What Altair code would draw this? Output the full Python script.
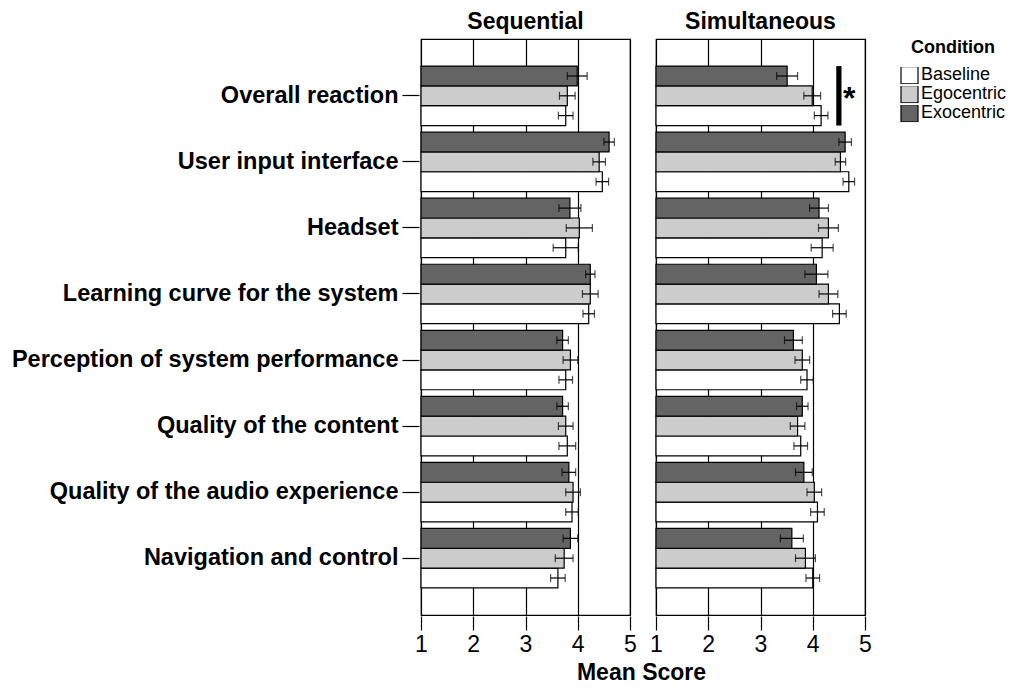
import altair as alt
import pandas as pd

items = ["Overall reaction", "User input interface", "Headset",
         "Learning curve for the system", "Perception of system performance",
         "Quality of the content", "Quality of the audio experience",
         "Navigation and control"]
panels = ["Sequential", "Simultaneous"]
conditions = ["Baseline", "Egocentric", "Exocentric"]
bar_order = ["Exocentric", "Egocentric", "Baseline"]

seq_base = [3.77, 4.47, 3.77, 4.21, 3.77, 3.80, 3.89, 3.62]
seq_base_err = [0.14, 0.12, 0.24, 0.11, 0.13, 0.16, 0.12, 0.14]
seq_ego = [3.80, 4.41, 4.03, 4.24, 3.86, 3.77, 3.91, 3.74]
seq_ego_err = [0.15, 0.12, 0.25, 0.15, 0.14, 0.14, 0.14, 0.17]
seq_exo = [3.99, 4.60, 3.85, 4.24, 3.71, 3.71, 3.83, 3.86]
seq_exo_err = [0.19, 0.10, 0.21, 0.09, 0.11, 0.11, 0.13, 0.14]

sim_base = [4.16, 4.69, 4.18, 4.51, 3.89, 3.77, 4.09, 4.00]
sim_base_err = [0.13, 0.11, 0.21, 0.13, 0.12, 0.13, 0.13, 0.13]
sim_ego = [3.99, 4.53, 4.30, 4.30, 3.80, 3.71, 4.03, 3.86]
sim_ego_err = [0.16, 0.10, 0.19, 0.18, 0.14, 0.14, 0.14, 0.19]
sim_exo = [3.51, 4.62, 4.12, 4.07, 3.63, 3.80, 3.83, 3.60]
sim_exo_err = [0.20, 0.12, 0.18, 0.22, 0.17, 0.11, 0.16, 0.22]

# significance annotation (Simultaneous, Overall reaction)
sig_panel = "Simultaneous"
sig_item = "Overall reaction"
sig_x = [4.45, 4.55]
star_x = 4.70

series = {
    ("Sequential", "Baseline"): (seq_base, seq_base_err),
    ("Sequential", "Egocentric"): (seq_ego, seq_ego_err),
    ("Sequential", "Exocentric"): (seq_exo, seq_exo_err),
    ("Simultaneous", "Baseline"): (sim_base, sim_base_err),
    ("Simultaneous", "Egocentric"): (sim_ego, sim_ego_err),
    ("Simultaneous", "Exocentric"): (sim_exo, sim_exo_err),
}

rows = []
for (panel, cond), (means, errs) in series.items():
    for it, m, e in zip(items, means, errs):
        rows.append(dict(kind="bar", panel=panel, item=it, condition=cond,
                         mean=m, base=1, lo=m - e, hi=m + e))
rows.append(dict(kind="sig", panel=sig_panel, item=sig_item,
                 x1=sig_x[0], x2=sig_x[1], sx=star_x, star="*"))
df = pd.DataFrame(rows)

FONT = "Liberation Sans"
PANEL_W = 209
SPACING = 23

y_enc = alt.Y("item:N", sort=items,
              scale=alt.Scale(paddingInner=0.1, paddingOuter=0.41),
              axis=alt.Axis(title=None, labelFontSize=23.5, labelFontWeight="bold",
                            labelColor="black", labelLimit=600, tickSize=17,
                            tickColor="black", tickWidth=1.2, domain=False,
                            labelPadding=4))
yoff_enc = alt.YOffset("condition:N", sort=bar_order,
                       scale=alt.Scale(paddingInner=0, paddingOuter=0))
x_scale = alt.Scale(domain=[1, 5], nice=False, zero=False)
x_axis = alt.Axis(values=[1, 2, 3, 4, 5], format="d", title=None,
                  grid=True, gridColor="black", gridWidth=1.2, gridOpacity=1,
                  tickSize=14, tickColor="black", tickWidth=1.2,
                  domain=False,
                  labelFontSize=23, labelColor="black", labelFlush=False,
                  labelOverlap=False, labelPadding=3)

bars = alt.Chart().mark_bar(stroke="black", strokeWidth=1.2).encode(
    y=y_enc, yOffset=yoff_enc,
    x=alt.X("mean:Q", scale=x_scale, axis=x_axis),
    x2="base:Q",
    color=alt.Color("condition:N",
                    scale=alt.Scale(domain=conditions,
                                    range=["#ffffff", "#cccccc", "#646464"]),
                    legend=alt.Legend(title="Condition", titleFontSize=18,
                                      titleFontWeight="bold", titleColor="black",
                                      titleAnchor="middle", titlePadding=10,
                                      labelFontSize=18, labelColor="black",
                                      symbolType="square", symbolSize=289,
                                      symbolStrokeColor="black",
                                      symbolStrokeWidth=1.2, symbolOpacity=1,
                                      rowPadding=0, clipHeight=16.5,
                                      labelOffset=2, offset=28, padding=0)),
).transform_filter(alt.datum.kind == "bar")

err_rule = alt.Chart().mark_rule(color="black", strokeWidth=1.2).encode(
    y=y_enc, yOffset=yoff_enc,
    x=alt.X("lo:Q", scale=x_scale), x2="hi:Q",
).transform_filter(alt.datum.kind == "bar")

err_caps = alt.Chart().mark_tick(color="black", thickness=1.2, size=8,
                                 orient="vertical").encode(
    y=y_enc, yOffset=yoff_enc,
    x=alt.X("v:Q", scale=x_scale),
).transform_filter(alt.datum.kind == "bar").transform_fold(["lo", "hi"], as_=["k", "v"])

sig_bar = alt.Chart().mark_bar(color="black").encode(
    y=y_enc, x=alt.X("x1:Q", scale=x_scale), x2="x2:Q",
).transform_filter(alt.datum.kind == "sig")

sig_star = alt.Chart().mark_text(fontSize=32, fontWeight="bold", color="black",
                                 font=FONT, baseline="middle", dy=3).encode(
    y=y_enc, x=alt.X("sx:Q", scale=x_scale), text="star:N",
).transform_filter(alt.datum.kind == "sig")

layer = alt.layer(bars, err_rule, err_caps, sig_bar, sig_star).properties(
    width=PANEL_W, height=576)

chart = layer.facet(
    column=alt.Column("panel:N", sort=panels,
                      header=alt.Header(title=None, labelFontSize=23,
                                        labelFontWeight="bold", labelColor="black",
                                        labelPadding=4)),
    data=df, spacing=SPACING,
).properties(
    padding={"left": 3, "top": 3, "right": 0, "bottom": 0},
    title=alt.TitleParams("Mean Score", orient="bottom", anchor="middle",
                          frame="group", fontSize=23, fontWeight="bold",
                          color="black", offset=6,
                          dx=PANEL_W + SPACING / 2)
).configure(font=FONT).configure_view(stroke="black", strokeWidth=1.2)

chart.save("out.html", embed_options={"renderer": "svg", "actions": False})
